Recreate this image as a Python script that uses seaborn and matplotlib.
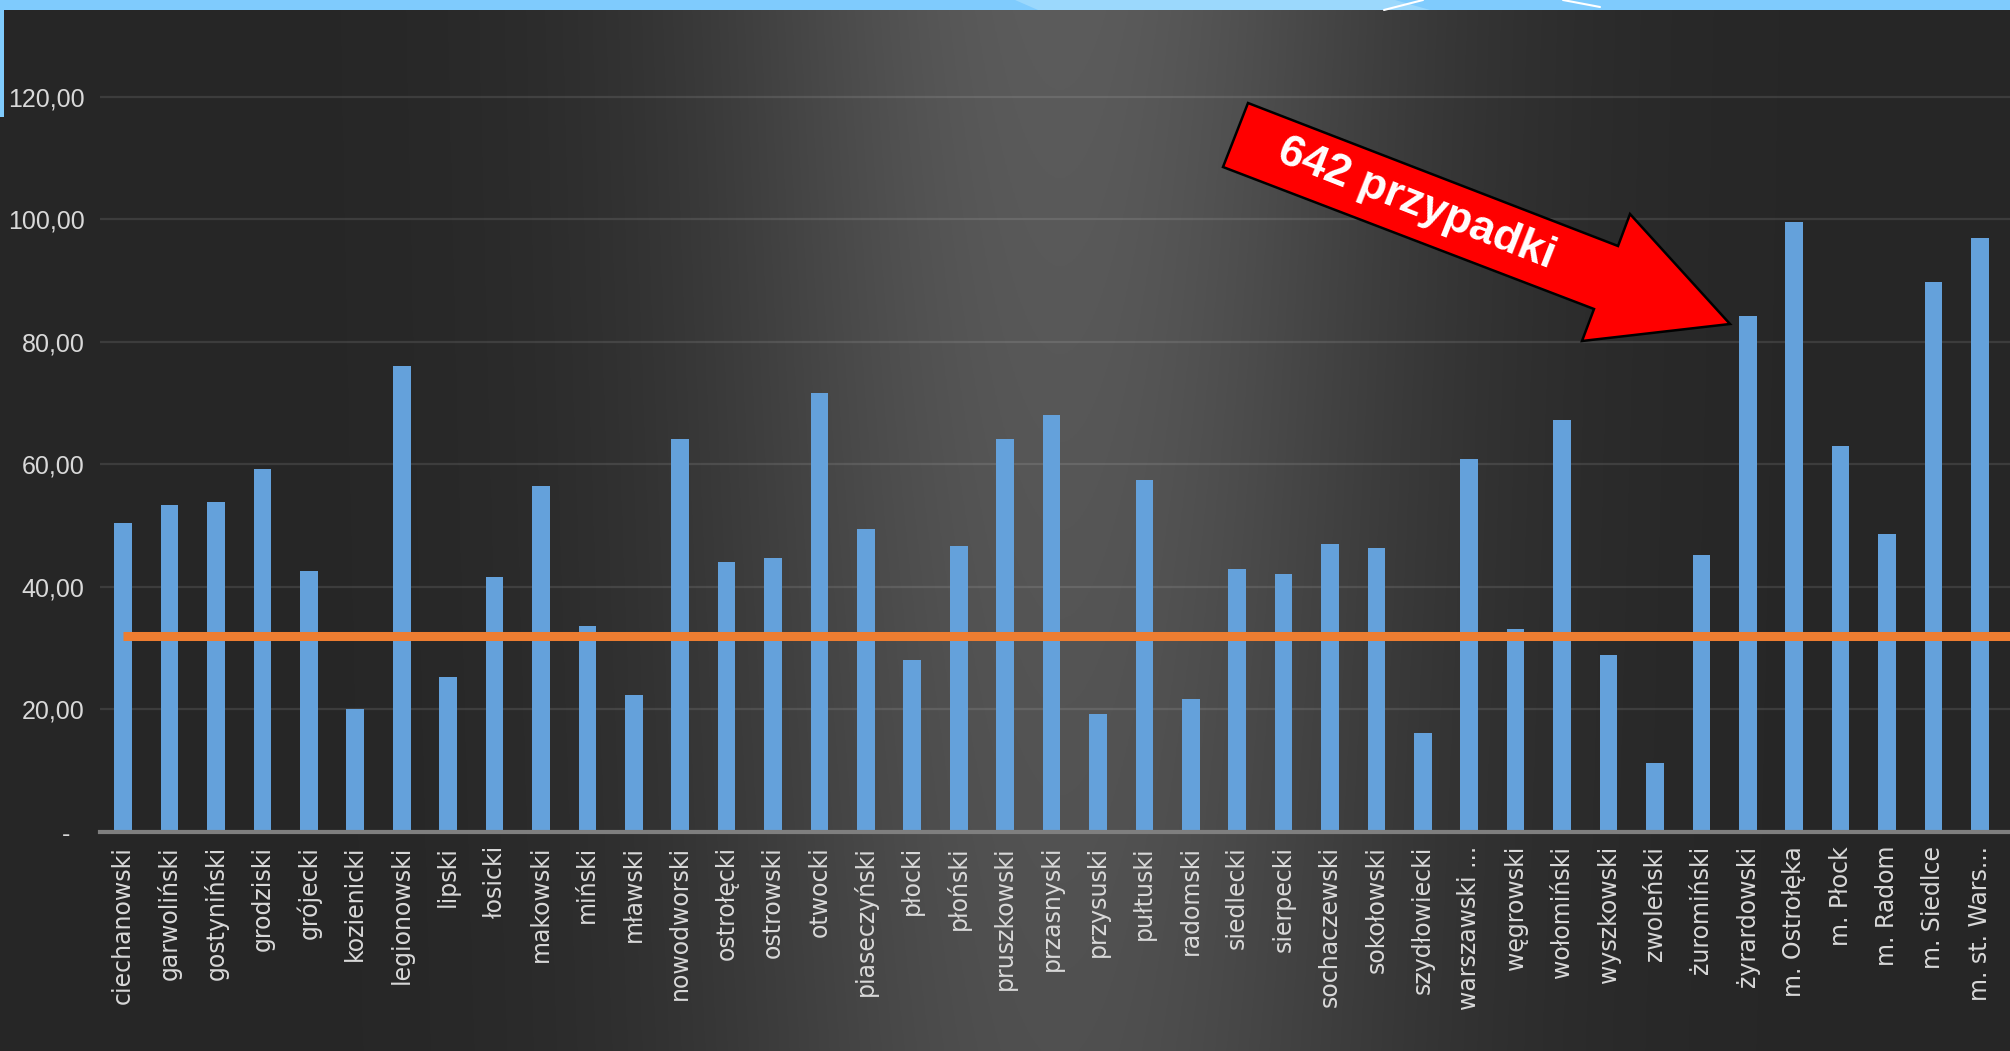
import numpy as np
import pandas as pd
import matplotlib
matplotlib.use("Agg")
import matplotlib.pyplot as plt
from matplotlib import font_manager
from matplotlib.patches import Polygon, Rectangle
from matplotlib.lines import Line2D
import seaborn as sns

# ---------------------------------------------------------
# Data
# ---------------------------------------------------------
districts = [
    "ciechanowski", "garwoliński", "gostyniński", "grodziski", "grójecki",
    "kozienicki", "legionowski", "lipski", "łosicki", "makowski",
    "miński", "mławski", "nowodworski", "ostrołęcki", "ostrowski",
    "otwocki", "piaseczyński", "płocki", "płoński", "pruszkowski",
    "przasnyski", "przysuski", "pułtuski", "radomski", "siedlecki",
    "sierpecki", "sochaczewski", "sokołowski", "szydłowiecki", "warszawski ...",
    "węgrowski", "wołomiński", "wyszkowski", "zwoleński", "żuromiński",
    "żyrardowski", "m. Ostrołęka", "m. Płock", "m. Radom", "m. Siedlce",
    "m. st. Wars...",
]
rates = [
    50.5, 53.4, 53.9, 59.3, 42.6,
    20.0, 76.1, 25.3, 41.6, 56.5,
    33.7, 22.4, 64.1, 44.0, 44.7,
    71.6, 49.5, 28.1, 46.7, 64.1,
    68.1, 19.2, 57.5, 21.7, 42.9,
    42.1, 47.1, 46.3, 16.1, 60.9,
    33.1, 67.2, 28.9, 11.2, 45.3,
    84.2, 99.6, 63.1, 48.6, 89.8,
    97.0,
]
average_rate = 32.0
y_ticks = [0, 20, 40, 60, 80, 100, 120]
y_tick_labels = ["-  ", "20,00", "40,00", "60,00", "80,00", "100,00", "120,00"]
callout = "642 przypadki"

# ---------------------------------------------------------
# Style
# ---------------------------------------------------------
sns.set_style("white")
plt.rcParams["font.family"] = ["DejaVu Sans"]

# narrow font for the value axis if we have one
installed = {f.name for f in font_manager.fontManager.ttflist}
if "Liberation Sans Narrow" in installed:
    ytick_font, ytick_size = "Liberation Sans Narrow", 21
else:
    ytick_font, ytick_size = "Liberation Sans", 18

W, H = 2010, 1051
fig = plt.figure(figsize=(W / 100, H / 100), dpi=100)
fig.patch.set_facecolor("#262626")


def fx(px):
    return px / W


def fy(py):
    return 1 - py / H


# dark slide background with a soft light band in the middle
bg = fig.add_axes([0, 0, 1, 1], zorder=-10)
xs = np.linspace(0, W, 800)
ys = np.linspace(0, H, 300)
glow = np.outer(1 - 0.22 * ys / H, np.exp(-0.5 * ((xs - 1060) / 255) ** 2))
shade = (38 + 54 * glow) / 255
bg.imshow(np.dstack([shade] * 3), aspect="auto", extent=[0, W, H, 0])
bg.set_xlim(0, W)
bg.set_ylim(H, 0)
bg.axis("off")

# ---------------------------------------------------------
# Bar chart + average line
# ---------------------------------------------------------
ax = fig.add_axes([fx(100), fy(832), 1 - fx(100), (832 - 10) / H])
ax.patch.set_alpha(0)

df = pd.DataFrame({"powiat": districts, "wsp": rates})
sns.barplot(data=df, x="powiat", y="wsp", color="#64a1db", saturation=1,
            width=0.38, linewidth=0, edgecolor="none", ax=ax)

ax.set_xlim(-0.5, 40.65)
ax.set_ylim(0, 134.2)
ax.hlines(average_rate, 0, ax.get_xlim()[1], color="#ed7d31", lw=6.5, zorder=4)

ax.set_axisbelow(True)
ax.yaxis.grid(True, color="#ffffff", alpha=0.1, lw=1.6)
ax.xaxis.grid(False)
for side in ["top", "left", "right"]:
    ax.spines[side].set_visible(False)
ax.spines["bottom"].set_color("#7f7f7f")
ax.spines["bottom"].set_linewidth(3)

ax.set_yticks(y_ticks)
ax.set_yticklabels(y_tick_labels, family=[ytick_font, "DejaVu Sans"],
                   fontsize=ytick_size, color="#d9d9d9")
ax.set_xticks(range(len(districts)))
ax.set_xticklabels(districts, rotation=90, fontsize=17, color="#d9d9d9",
                   ha="center", va="top")
ax.tick_params(axis="y", length=0, pad=11)
ax.tick_params(axis="x", length=0, pad=10)
ax.set_xlabel("")
ax.set_ylabel("")

# ---------------------------------------------------------
# Slide frame and callout arrow
# ---------------------------------------------------------
fig.add_artist(Rectangle((0, fy(10)), 1, 10 / H, transform=fig.transFigure,
                         fc="#7fcbfd", ec="none", zorder=20))
fig.add_artist(Polygon([(fx(1015), 1), (fx(1395), 1), (fx(1430), fy(10)), (fx(1038), fy(10))],
                       closed=True, transform=fig.transFigure, fc="#9bd8fc", ec="none", zorder=21))
fig.add_artist(Line2D([fx(1384), fx(1423)], [fy(10), 1], transform=fig.transFigure,
                      color="white", lw=1.5, zorder=22))
fig.add_artist(Line2D([fx(1563), fx(1600)], [1, fy(7)], transform=fig.transFigure,
                      color="white", lw=1.5, zorder=22))
fig.add_artist(Rectangle((0, fy(117)), 3.5 / W, 117 / H, transform=fig.transFigure,
                         fc="#7fcbfd", ec="none", zorder=20))

arrow_px = [(1248, 103), (1618, 246), (1630, 214), (1730, 324),
            (1582, 341), (1594, 309), (1223, 167)]
fig.add_artist(Polygon([(fx(x), fy(y)) for x, y in arrow_px], closed=True,
                       transform=fig.transFigure, fc="#ff0000", ec="black",
                       lw=1.8, joinstyle="miter", zorder=30))
fig.text(fx(1416), fy(204), callout, rotation=-21.5, rotation_mode="anchor",
         ha="center", va="center", fontsize=32, fontweight="bold", color="white",
         family=["Liberation Sans", "DejaVu Sans"], zorder=31)

fig.savefig("out.png", dpi=100, facecolor=fig.get_facecolor())
